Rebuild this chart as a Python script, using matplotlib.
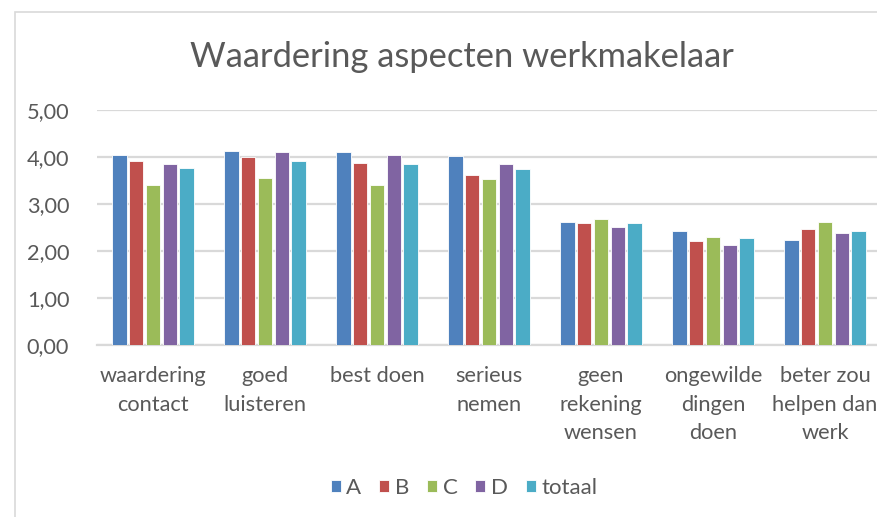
import numpy as np
import matplotlib.pyplot as plt
from matplotlib.patches import Rectangle

categories = [
    "waardering\ncontact",
    "goed\nluisteren",
    "best doen",
    "serieus\nnemen",
    "geen\nrekening\nwensen",
    "ongewilde\ndingen\ndoen",
    "beter zou\nhelpen dan\nwerk",
]
series_names = ["A", "B", "C", "D", "totaal"]
vals_a = [4.05, 4.12, 4.10, 4.02, 2.62, 2.43, 2.24]
vals_b = [3.91, 3.99, 3.88, 3.61, 2.60, 2.21, 2.46]
vals_c = [3.41, 3.56, 3.41, 3.53, 2.68, 2.30, 2.62]
vals_d = [3.85, 4.10, 4.05, 3.85, 2.51, 2.13, 2.38]
vals_tot = [3.77, 3.91, 3.85, 3.75, 2.60, 2.28, 2.43]
yticks = [0, 1, 2, 3, 4, 5]

colors = ["#4F81BD", "#C0504D", "#9BBB59", "#8064A2", "#4BACC6"]
text_color = "#595959"
grid_color = "#D9D9D9"

plt.rcParams["font.family"] = ["Lato", "DejaVu Sans"]

W, H = 878, 517
fig = plt.figure(figsize=(W / 100, H / 100), dpi=100)

# chart frame (Excel style), runs off the right/bottom edge
fig.patches.append(Rectangle((15 / W, -0.1), 1.2, 1 - 12 / H + 0.1,
                             transform=fig.transFigure, fill=False,
                             edgecolor=grid_color, linewidth=1.2))

ax = fig.add_axes([97 / W, 1 - 345 / H, 784 / W, 235 / H])

x = np.arange(len(categories))
slot = 0.149
bw = 0.128
all_vals = [vals_a, vals_b, vals_c, vals_d, vals_tot]
for i, (name, vals) in enumerate(zip(series_names, all_vals)):
    ax.bar(x + (i - 2) * slot, vals, width=bw, color=colors[i],
           edgecolor="white", linewidth=0.6, label=name, zorder=3)

ax.set_xlim(-0.5, len(categories) - 0.5)
ax.set_ylim(0, 5)
ax.set_yticks(yticks)
ax.set_yticklabels([f"{v:.2f}".replace(".", ",") for v in yticks],
                   fontsize=15.7, color=text_color)
ax.set_xticks(x)
ax.set_xticklabels(categories, fontsize=15.7, color=text_color,
                   linespacing=1.55, va="top")
ax.tick_params(length=0)
ax.tick_params(axis="y", pad=20)
ax.tick_params(axis="x", pad=15)
ax.grid(axis="y", color=grid_color, linewidth=1.6, zorder=0)
for s in ["top", "right", "left"]:
    ax.spines[s].set_visible(False)
ax.spines["bottom"].set_color(grid_color)
ax.spines["bottom"].set_linewidth(1.6)

fig.text(462 / W, 1 - 57 / H, "Waardering aspecten werkmakelaar",
         ha="center", va="center", fontsize=24.8, color=text_color)

handles, labels = ax.get_legend_handles_labels()
fig.legend(handles, labels, loc="center", bbox_to_anchor=(464 / W, 1 - 488 / H),
           ncol=5, frameon=False, fontsize=16, labelcolor=text_color,
           handlelength=0.45, handleheight=0.45, handletextpad=0.25,
           columnspacing=0.8)

fig.savefig("out.png", dpi=100)
